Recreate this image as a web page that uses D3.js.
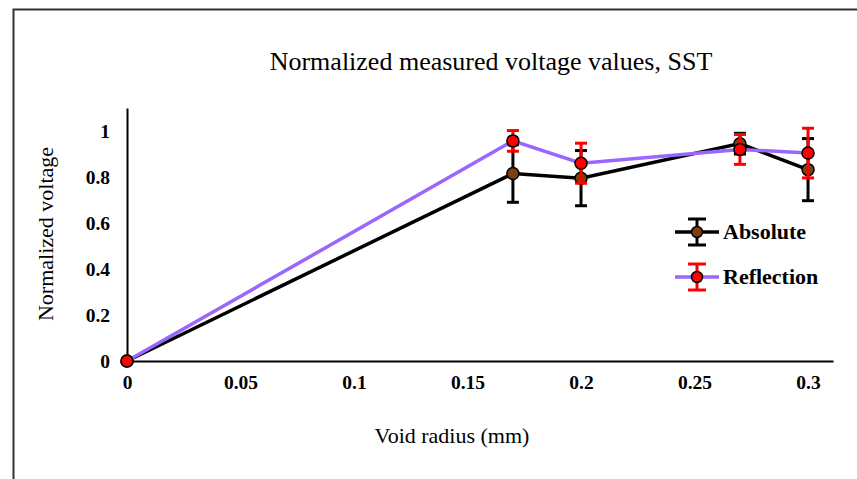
<!DOCTYPE html>
<html>
<head>
<meta charset="utf-8">
<script src="https://cdn.jsdelivr.net/npm/d3@7"></script>
<style>
  body { margin: 0; background: #fff; }
  svg text { font-family: "Liberation Serif", "Times New Roman", serif; fill: #000; }
</style>
</head>
<body>
<script>
// data
var radius = [0, 0.17, 0.2, 0.27, 0.3]
var absolute = [0, 0.815, 0.795, 0.945, 0.832]
var absoluteErr = [0, 0.125, 0.12, 0.045, 0.135]
var reflection = [0, 0.957, 0.86, 0.92, 0.904]
var reflectionErr = [0, 0.045, 0.087, 0.065, 0.108]
var xTicks = [0, 0.05, 0.1, 0.15, 0.2, 0.25, 0.3]
var yTicks = [0, 0.2, 0.4, 0.6, 0.8, 1]

var width = 857, height = 479

var svg = d3.select("body").append("svg")
    .attr("width", width)
    .attr("height", height)

// outer frame (top and left edges visible)
svg.append("path")
    .attr("d", "M13.5,479 L13.5,9.5 L857,9.5")
    .attr("fill", "none")
    .attr("stroke", "#333")
    .attr("stroke-width", 2)

var x = d3.scaleLinear().domain([0, 0.311]).range([127, 833])
var y = d3.scaleLinear().domain([0, 1.1]).range([361, 108])

// axes
var xAxis = svg.append("g")
    .attr("transform", "translate(0," + y(0) + ")")
    .call(d3.axisBottom(x).tickValues(xTicks).tickSize(0).tickPadding(14)
      .tickFormat(function(d) { return d; }))
xAxis.select(".domain").attr("stroke", "#000").attr("stroke-width", 2)
xAxis.selectAll("text")
    .style("font-size", "19.5px").style("font-weight", "bold")

var yAxis = svg.append("g")
    .attr("transform", "translate(" + x(0) + ",0)")
    .call(d3.axisLeft(y).tickValues(yTicks).tickSize(0).tickPadding(17)
      .tickFormat(function(d) { return d; }))
yAxis.select(".domain").attr("stroke", "#000").attr("stroke-width", 2)
yAxis.selectAll("text")
    .style("font-size", "19.5px").style("font-weight", "bold")

// titles
svg.append("text")
    .attr("x", 491).attr("y", 70)
    .attr("text-anchor", "middle")
    .style("font-size", "26px")
    .text("Normalized measured voltage values, SST")

svg.append("text")
    .attr("x", 452).attr("y", 443)
    .attr("text-anchor", "middle")
    .style("font-size", "22px")
    .text("Void radius (mm)")

svg.append("text")
    .attr("transform", "translate(53,234) rotate(-90)")
    .attr("text-anchor", "middle")
    .style("font-size", "22px")
    .text("Normalized voltage")

var series = [
  { name: "Absolute", vals: absolute, err: absoluteErr, line: "#000", bar: "#000", fill: "#7b3f12" },
  { name: "Reflection", vals: reflection, err: reflectionErr, line: "#9966ff", bar: "#ff0000", fill: "#ff0000" }
]

var line = d3.line()
    .x(function(d) { return x(d[0]); })
    .y(function(d) { return y(d[1]); })

series.forEach(function(s) {
  var pts = radius.map(function(r, i) { return [r, s.vals[i], s.err[i]]; })
  var g = svg.append("g")
  g.append("path")
      .datum(pts)
      .attr("d", line)
      .attr("fill", "none")
      .attr("stroke", s.line)
      .attr("stroke-width", 3.5)

  var eb = g.selectAll(".eb").data(pts.filter(function(d) { return d[2] > 0; }))
    .enter().append("g")
  eb.append("line")
      .attr("x1", function(d) { return x(d[0]); })
      .attr("x2", function(d) { return x(d[0]); })
      .attr("y1", function(d) { return y(d[1] - d[2]); })
      .attr("y2", function(d) { return y(d[1] + d[2]); })
      .attr("stroke", s.bar).attr("stroke-width", 3)
  ;[-1, 1].forEach(function(sign) {
    eb.append("line")
        .attr("x1", function(d) { return x(d[0]) - 6; })
        .attr("x2", function(d) { return x(d[0]) + 6; })
        .attr("y1", function(d) { return y(d[1] + sign * d[2]); })
        .attr("y2", function(d) { return y(d[1] + sign * d[2]); })
        .attr("stroke", s.bar).attr("stroke-width", 3)
  })

  g.selectAll("circle").data(pts).enter().append("circle")
      .attr("cx", function(d) { return x(d[0]); })
      .attr("cy", function(d) { return y(d[1]); })
      .attr("r", 6)
      .attr("fill", s.fill)
      .attr("stroke", "#000")
      .attr("stroke-width", 1.5)
})

// legend
var legend = svg.append("g")
var leg = legend.selectAll("g").data(series).enter().append("g")
    .attr("transform", function(d, i) { return "translate(697," + (232 + i * 45) + ")"; })
leg.append("line")
    .attr("x1", -22).attr("x2", 22)
    .attr("stroke", function(d) { return d.line; })
    .attr("stroke-width", 3.5)
leg.append("line")
    .attr("y1", -13).attr("y2", 13)
    .attr("stroke", function(d) { return d.bar; })
    .attr("stroke-width", 3)
leg.append("line").attr("x1", -9).attr("x2", 9).attr("y1", -13).attr("y2", -13)
    .attr("stroke", function(d) { return d.bar; }).attr("stroke-width", 3)
leg.append("line").attr("x1", -9).attr("x2", 9).attr("y1", 13).attr("y2", 13)
    .attr("stroke", function(d) { return d.bar; }).attr("stroke-width", 3)
leg.append("circle")
    .attr("r", 5.5)
    .attr("fill", function(d) { return d.fill; })
    .attr("stroke", "#000").attr("stroke-width", 1.5)
leg.append("text")
    .attr("x", 26).attr("y", 7)
    .style("font-size", "22px").style("font-weight", "bold")
    .text(function(d) { return d.name; })
</script>
</body>
</html>
